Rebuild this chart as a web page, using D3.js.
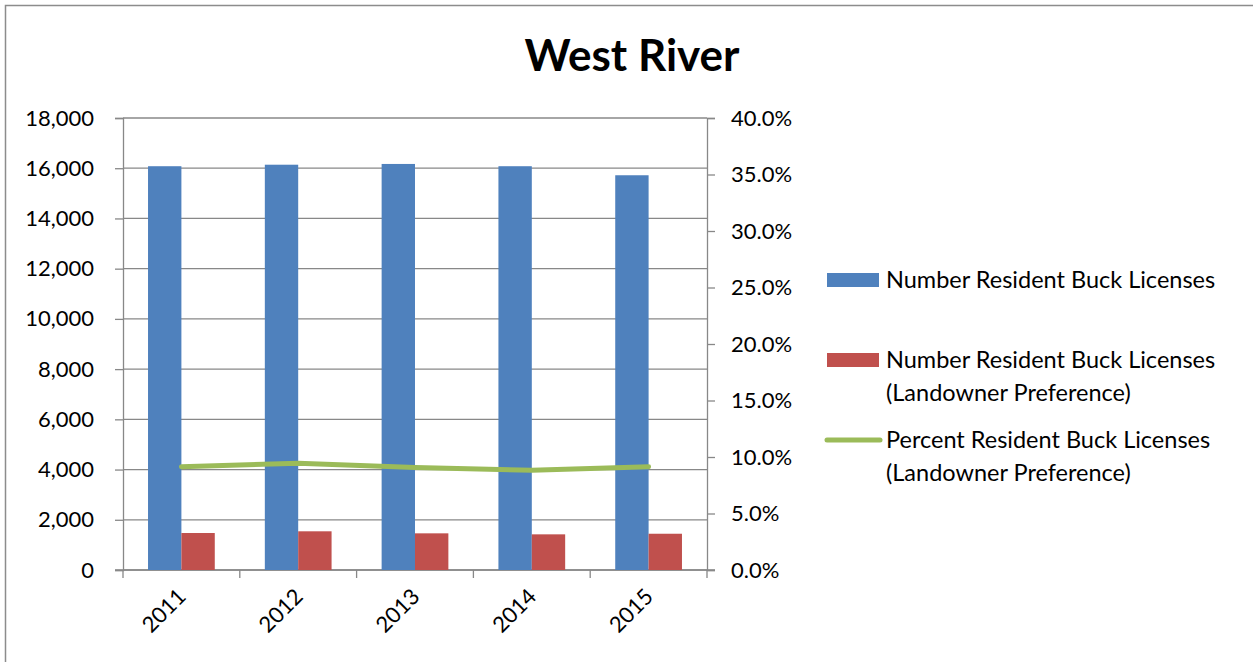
<!DOCTYPE html>
<html>
<head>
<meta charset="utf-8">
<script src="https://cdn.jsdelivr.net/npm/d3@7"></script>
<style>
  body { margin: 0; background: #fff; }
  svg text { font-family: Lato, "Open Sans", sans-serif; fill: #000; }
</style>
</head>
<body>
<div id="chart"></div>
<script>
// data
const years = ["2011", "2012", "2013", "2014", "2015"];
const buckLicenses = [16080, 16140, 16170, 16080, 15720];
const landownerLicenses = [1473, 1541, 1460, 1420, 1444];
const landownerPercent = [0.0914, 0.0944, 0.0908, 0.0882, 0.0914];
const leftTicks = [0, 2000, 4000, 6000, 8000, 10000, 12000, 14000, 16000, 18000];
const rightTicks = [0, 0.05, 0.10, 0.15, 0.20, 0.25, 0.30, 0.35, 0.40];
const seriesNames = ["Number Resident Buck Licenses", "Number Resident Buck Licenses (Landowner Preference)", "Percent Resident Buck Licenses (Landowner Preference)"];

const width = 1253, height = 662;
const plot = { left: 123, right: 707, top: 118, bottom: 570 };
const colors = { blue: "#4F81BD", red: "#C0504D", green: "#9BBB59", grid: "#888888" };

const svg = d3.select("#chart").append("svg")
    .attr("width", width)
    .attr("height", height);

// outer frame
svg.append("rect")
    .attr("x", 5.5).attr("y", 5.5)
    .attr("width", width).attr("height", height)
    .attr("fill", "none")
    .attr("stroke", "#8c8c8c")
    .attr("stroke-width", 1.5);

// title
svg.append("text")
    .attr("x", 632).attr("y", 71)
    .attr("text-anchor", "middle")
    .attr("font-size", "44px")
    .attr("font-weight", "bold")
    .text("West River");

// scales
const x0 = d3.scaleBand().domain(years).range([plot.left, plot.right]).padding(0);
const x1 = d3.scaleBand().domain(["a", "b"]).range([0, x0.bandwidth()]).paddingInner(0).paddingOuter(0.75);
const yL = d3.scaleLinear().domain([0, 18000]).range([plot.bottom, plot.top]);
const yR = d3.scaleLinear().domain([0, 0.40]).range([plot.bottom, plot.top]);

// gridlines
svg.append("g").selectAll("line")
    .data(leftTicks)
    .enter().append("line")
    .attr("x1", plot.left).attr("x2", plot.right)
    .attr("y1", d => yL(d)).attr("y2", d => yL(d))
    .attr("stroke", colors.grid)
    .attr("stroke-width", 1.3);

// left axis
const leftAxis = svg.append("g")
    .attr("transform", `translate(${plot.left},0)`)
    .call(d3.axisLeft(yL).tickValues(leftTicks).tickFormat(d3.format(",")).tickSize(8).tickPadding(21));
leftAxis.select(".domain").attr("stroke", colors.grid).attr("stroke-width", 1.3);
leftAxis.selectAll(".tick line").attr("stroke", colors.grid).attr("stroke-width", 1.3);
leftAxis.selectAll("text").attr("font-size", "22px").attr("font-family", "Lato").attr("fill", "#000");

// right axis
const rightAxis = svg.append("g")
    .attr("transform", `translate(${plot.right},0)`)
    .call(d3.axisRight(yR).tickValues(rightTicks).tickFormat(d3.format(".1%")).tickSize(8).tickPadding(16));
rightAxis.select(".domain").attr("stroke", colors.grid).attr("stroke-width", 1.3);
rightAxis.selectAll(".tick line").attr("stroke", colors.grid).attr("stroke-width", 1.3);
rightAxis.selectAll("text").attr("font-size", "22px").attr("font-family", "Lato").attr("fill", "#000");

// bottom axis line and category ticks
const bottom = svg.append("g");
bottom.append("line")
    .attr("x1", plot.left - 8).attr("x2", plot.right + 8)
    .attr("y1", plot.bottom).attr("y2", plot.bottom)
    .attr("stroke", colors.grid).attr("stroke-width", 1.3);
const boundaries = years.map(d => x0(d)).concat([plot.right]);
bottom.selectAll(".ctick")
    .data(boundaries)
    .enter().append("line")
    .attr("x1", d => d).attr("x2", d => d)
    .attr("y1", plot.bottom).attr("y2", plot.bottom + 8)
    .attr("stroke", colors.grid).attr("stroke-width", 1.3);

bottom.selectAll(".clabel")
    .data(years)
    .enter().append("text")
    .attr("text-anchor", "end")
    .attr("font-size", "22px")
    .attr("transform", d => `translate(${x0(d) + x0.bandwidth() / 2 + 6},${plot.bottom + 28}) rotate(-45)`)
    .text(d => d);

// bars
const groups = svg.append("g").selectAll("g")
    .data(years)
    .enter().append("g")
    .attr("transform", d => `translate(${x0(d)},0)`);

groups.append("rect")
    .attr("x", x1("a"))
    .attr("y", (d, i) => yL(buckLicenses[i]))
    .attr("width", x1.bandwidth())
    .attr("height", (d, i) => yL(0) - yL(buckLicenses[i]))
    .attr("fill", colors.blue);

groups.append("rect")
    .attr("x", x1("b"))
    .attr("y", (d, i) => yL(landownerLicenses[i]))
    .attr("width", x1.bandwidth())
    .attr("height", (d, i) => yL(0) - yL(landownerLicenses[i]))
    .attr("fill", colors.red);

// percent line
const line = d3.line()
    .x((d, i) => x0(years[i]) + x0.bandwidth() / 2)
    .y(d => yR(d));

svg.append("path")
    .datum(landownerPercent)
    .attr("d", line)
    .attr("fill", "none")
    .attr("stroke", colors.green)
    .attr("stroke-width", 5)
    .attr("stroke-linecap", "round")
    .attr("stroke-linejoin", "round");

// legend
const legend = svg.append("g");
const lx = 827, tx = 886, fs = "23.5px";

legend.append("rect").attr("x", lx).attr("y", 273).attr("width", 52).attr("height", 14).attr("fill", colors.blue);
legend.append("text").attr("x", tx).attr("y", 288).attr("font-size", fs).text(seriesNames[0]);

legend.append("rect").attr("x", lx).attr("y", 353).attr("width", 52).attr("height", 14).attr("fill", colors.red);
legend.append("text").attr("x", tx).attr("y", 368).attr("font-size", fs).text("Number Resident Buck Licenses");
legend.append("text").attr("x", tx).attr("y", 401).attr("font-size", fs).text("(Landowner Preference)");

legend.append("line").attr("x1", lx).attr("x2", lx + 53).attr("y1", 440).attr("y2", 440)
    .attr("stroke", colors.green).attr("stroke-width", 5).attr("stroke-linecap", "round");
legend.append("text").attr("x", tx).attr("y", 448).attr("font-size", fs).text("Percent Resident Buck Licenses");
legend.append("text").attr("x", tx).attr("y", 481).attr("font-size", fs).text("(Landowner Preference)");
</script>
</body>
</html>
